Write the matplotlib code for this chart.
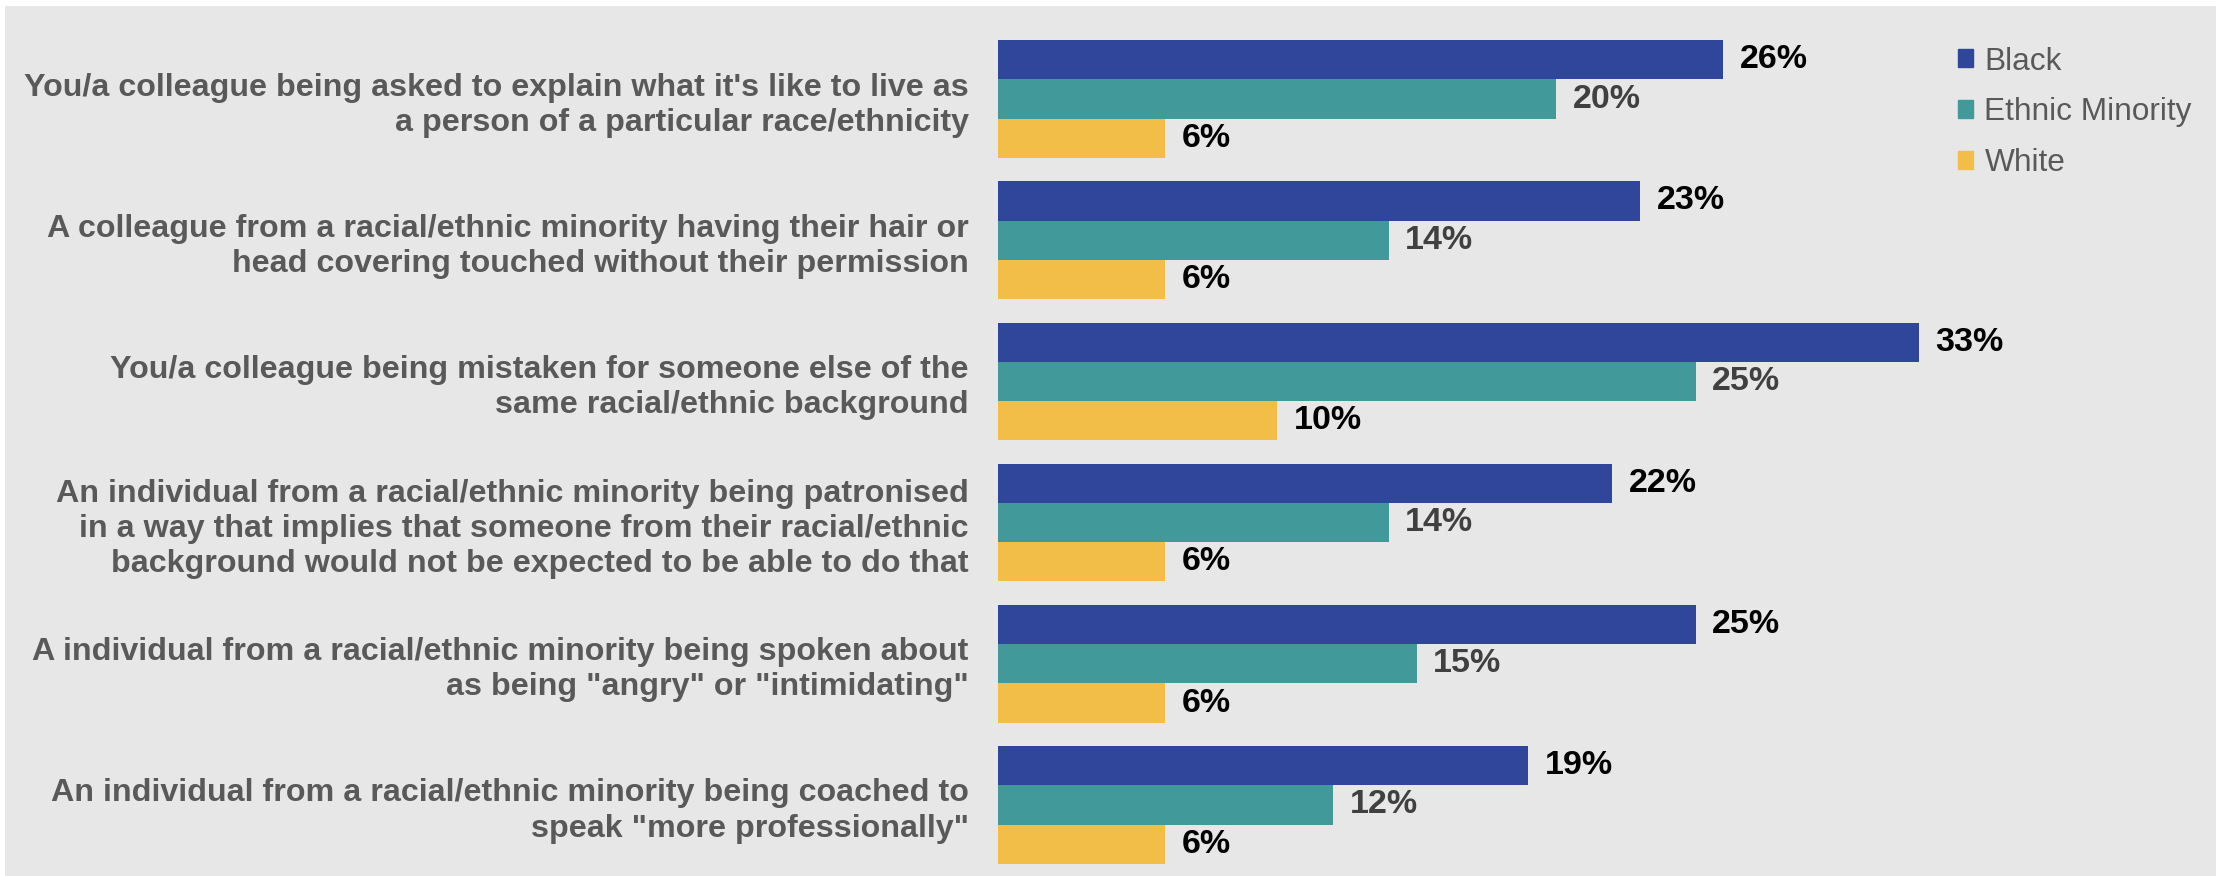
import matplotlib
matplotlib.use("Agg")
import matplotlib.pyplot as plt
import matplotlib.patches as patches
import numpy as np

categories = [
    "You/a colleague being asked to explain what it's like to live as\na person of a particular race/ethnicity",
    "A colleague from a racial/ethnic minority having their hair or\nhead covering touched without their permission",
    "You/a colleague being mistaken for someone else of the\nsame racial/ethnic background",
    "An individual from a racial/ethnic minority being patronised\nin a way that implies that someone from their racial/ethnic\nbackground would not be expected to be able to do that",
    "A individual from a racial/ethnic minority being spoken about\nas being \"angry\" or \"intimidating\"",
    "An individual from a racial/ethnic minority being coached to\nspeak \"more professionally\"",
]
black = [26, 23, 33, 22, 25, 19]
ethnic_minority = [20, 14, 25, 14, 15, 12]
white = [6, 6, 10, 6, 6, 6]
series_names = ["Black", "Ethnic Minority", "White"]

colors = ["#2f469b", "#41999a", "#f2be47"]
label_colors = ["#000000", "#404040", "#000000"]
bg = "#e7e7e7"

fig = plt.figure(figsize=(22.18, 8.76), dpi=100)
fig.patch.set_facecolor("white")
fig.add_artist(patches.Rectangle((5 / 2218, 0), 2211 / 2218, 870 / 876,
                                 transform=fig.transFigure, facecolor=bg,
                                 edgecolor="none", zorder=0))

ax = fig.add_axes([998 / 2218, 0.0005, 976.5 / 2218, 0.967])
ax.set_facecolor("none")
for s in ax.spines.values():
    s.set_visible(False)

y = np.arange(len(categories))
h = 0.278
for i, vals in enumerate([black, ethnic_minority, white]):
    pos = y + (i - 1) * h
    ax.barh(pos, vals, height=h, color=colors[i], label=series_names[i])
    for p, v in zip(pos, vals):
        ax.text(v + 0.6, p, f"{v}%", va="center", ha="left", fontsize=24.5,
                fontweight="bold", color=label_colors[i], family="Liberation Sans")

ax.set_xlim(0, 35)
ax.set_ylim(len(categories) - 0.5, -0.5)
ax.set_xticks([])
ax.set_yticks(y)
ax.set_yticklabels(categories, fontsize=23.2, fontweight="bold", color="#595959",
                   family="Liberation Sans", ha="right", linespacing=1.22)
ax.tick_params(axis="y", length=0, pad=21)

handles = [patches.Patch(color=c) for c in colors]
leg = fig.legend(handles, series_names, loc="upper left",
                 bbox_to_anchor=(1929 / 2218, 1 - 18 / 876), frameon=False,
                 prop={"family": "Liberation Sans", "size": 22.8},
                 labelcolor="#595959", handlelength=0.5, handleheight=0.5,
                 handletextpad=0.35, labelspacing=0.66)

fig.savefig("out.png", dpi=100, facecolor=fig.get_facecolor())
